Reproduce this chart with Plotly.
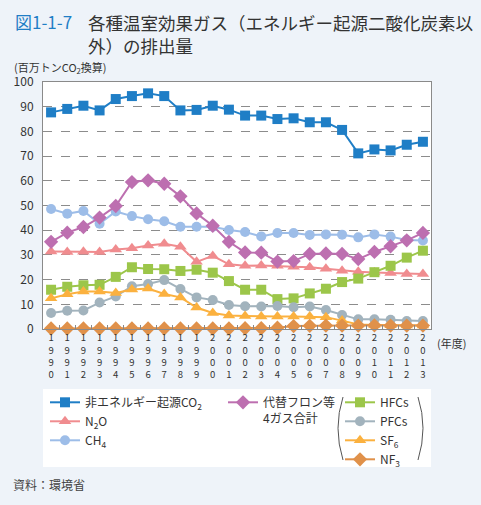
import plotly.graph_objects as go

years = [str(y) for y in range(1990, 2014)]
tick_labels = ["<br>".join(y) for y in years]

co2_non_energy = [87.7, 89.1, 90.4, 88.5, 93.1, 94.3, 95.4, 94.3, 88.5, 88.7, 90.4, 88.8,
                  86.4, 86.4, 85.0, 85.3, 83.7, 83.7, 80.6, 71.1, 72.7, 72.3, 74.6, 75.8]
fluoro_4gas = [35.3, 39.0, 41.3, 45.1, 49.8, 59.5, 60.2, 58.8, 53.7, 46.8, 41.8, 35.3,
               31.0, 30.9, 27.3, 27.5, 30.4, 30.6, 30.4, 28.3, 31.2, 33.5, 35.9, 38.9]
n2o = [31.4, 31.2, 31.3, 31.2, 32.2, 32.7, 33.8, 34.5, 33.3, 27.2, 29.6, 26.2,
       25.6, 25.7, 25.6, 25.2, 25.0, 24.4, 23.6, 23.2, 22.9, 22.7, 22.3, 22.3]
ch4 = [48.6, 46.7, 47.8, 42.6, 47.6, 45.7, 44.4, 43.6, 41.4, 41.4, 41.4, 40.1,
       39.3, 37.5, 38.9, 38.9, 38.1, 38.3, 38.2, 37.1, 38.3, 37.4, 36.0, 35.8]
hfcs = [15.9, 17.1, 17.7, 17.9, 21.1, 25.0, 24.3, 24.2, 23.5, 24.0, 22.8, 19.4,
        15.9, 15.9, 12.1, 12.4, 14.4, 16.3, 19.0, 20.4, 23.0, 25.6, 28.9, 31.7]
pfcs = [6.5, 7.4, 7.5, 10.7, 13.2, 17.3, 18.2, 19.8, 16.2, 12.8, 11.7, 9.7,
        9.2, 9.1, 9.3, 8.8, 9.1, 7.7, 5.7, 3.9, 3.9, 3.7, 3.2, 3.2]
sf6 = [12.4, 14.1, 15.2, 15.2, 14.6, 16.0, 16.4, 14.2, 12.8, 8.7, 6.5, 5.5,
       5.3, 5.1, 5.1, 5.1, 5.1, 4.8, 3.4, 1.8, 1.6, 1.5, 1.4, 1.4]
nf3 = [0.2, 0.2, 0.2, 0.2, 0.2, 0.2, 0.2, 0.2, 0.2, 0.2, 0.2, 0.2,
       0.3, 0.3, 0.5, 1.2, 1.3, 1.4, 1.4, 1.4, 1.5, 1.4, 1.4, 1.4]

FONT = "Noto Sans CJK JP"
BG = "#eef3f9"
TXT = "#333333"

series = [
    ("非エネルギー起源CO<sub>2</sub>", co2_non_energy, "#1f7ec6", "square", 10, "legend"),
    ("N<sub>2</sub>O", n2o, "#f08c8f", "triangle-up", 11, "legend"),
    ("CH<sub>4</sub>", ch4, "#9dbde8", "circle", 10, "legend"),
    ("代替フロン等<br>4ガス合計", fluoro_4gas, "#bd6fb0", "diamond", 11, "legend2"),
    ("HFCs", hfcs, "#9cc64a", "square", 10, "legend3"),
    ("PFCs", pfcs, "#a2b3bd", "circle", 10, "legend3"),
    ("SF<sub>6</sub>", sf6, "#fbb13f", "triangle-up", 11, "legend3"),
    ("NF<sub>3</sub>", nf3, "#e0914a", "diamond", 11, "legend3"),
]

fig = go.Figure()
for name, vals, color, sym, size, lg in series:
    fig.add_trace(go.Scatter(
        x=tick_labels, y=vals, name=name, mode="lines+markers",
        line=dict(color=color, width=2),
        marker=dict(symbol=sym, size=size, color=color),
        cliponaxis=False, legend=lg,
    ))

L, R, T, B = 43, 50, 82, 176
W, H = 481, 505
pw, ph = W - L - R, H - T - B


def px(x):
    return (x - L) / pw


def py(y):
    return (H - B - y) / ph


legend_common = dict(bgcolor="rgba(0,0,0,0)", font=dict(family=FONT, size=12, color=TXT),
                     tracegroupgap=0, itemwidth=30, xanchor="left", yanchor="top",
                     valign="top", traceorder="normal")
fig.update_layout(
    legend=dict(x=px(45), y=py(388), **legend_common),
    legend2=dict(x=px(223), y=py(388), **legend_common),
    legend3=dict(x=px(340), y=py(388), **legend_common),
)

fig.update_xaxes(
    type="category", range=[-0.5, 23.5], tickson="boundaries", ticks="inside",
    ticklen=4, tickcolor="#888888", showgrid=False, showline=True, mirror=True,
    linecolor="#8a8a8a", linewidth=1, tickangle=0,
    tickfont=dict(family=FONT, size=9.5, color=TXT),
)
fig.update_yaxes(
    range=[0, 100], dtick=10, showgrid=True, gridcolor="#8c8c8c", griddash="dash",
    gridwidth=1, showline=True, mirror=True, linecolor="#8a8a8a", linewidth=1,
    ticks="", zeroline=False, ticklabelstandoff=6,
    tickfont=dict(family=FONT, size=12, color=TXT),
)

shapes = [
    dict(type="rect", xref="paper", yref="paper", x0=px(43), x1=px(431), y0=py(467), y1=py(389),
         fillcolor="white", line=dict(width=0), layer="below"),
    dict(type="path", xref="paper", yref="paper",
         path=f"M {px(343)},{py(397)} Q {px(333)},{py(428)} {px(343)},{py(460)}",
         line=dict(color="#555555", width=1)),
    dict(type="path", xref="paper", yref="paper",
         path=f"M {px(418)},{py(397)} Q {px(428)},{py(428)} {px(418)},{py(460)}",
         line=dict(color="#555555", width=1)),
]

annotations = [
    dict(text="図1-1-7", x=px(13), y=py(21), xref="paper", yref="paper", xanchor="left",
         yanchor="middle", showarrow=False,
         font=dict(family=FONT, size=17, color="#1f7ec6")),
    dict(text="各種温室効果ガス（エネルギー起源二酸化炭素以<br>外）の排出量", x=px(86), y=py(8),
         xref="paper", yref="paper", xanchor="left", yanchor="top", align="left",
         showarrow=False, font=dict(family=FONT, size=17.5, color=TXT)),
    dict(text="(百万トンCO<sub>2</sub>換算)", x=px(12), y=py(68), xref="paper", yref="paper",
         xanchor="left", yanchor="middle", showarrow=False,
         font=dict(family=FONT, size=11, color=TXT)),
    dict(text="(年度)", x=px(435), y=py(343), xref="paper", yref="paper",
         xanchor="left", yanchor="middle", showarrow=False,
         font=dict(family=FONT, size=11, color=TXT)),
    dict(text="資料：環境省", x=px(11), y=py(484), xref="paper", yref="paper",
         xanchor="left", yanchor="middle", showarrow=False,
         font=dict(family=FONT, size=12, color="#444444")),
]

fig.update_layout(
    width=W, height=H, margin=dict(l=L, r=R, t=T, b=B, autoexpand=False),
    paper_bgcolor=BG, plot_bgcolor="white",
    font=dict(family=FONT, color=TXT),
    shapes=shapes, annotations=annotations, showlegend=True,
)

fig.write_html(
    "out.html",
    config={"displayModeBar": False},
    post_script="document.body.style.margin='0';document.body.style.background='%s';" % BG,
)
